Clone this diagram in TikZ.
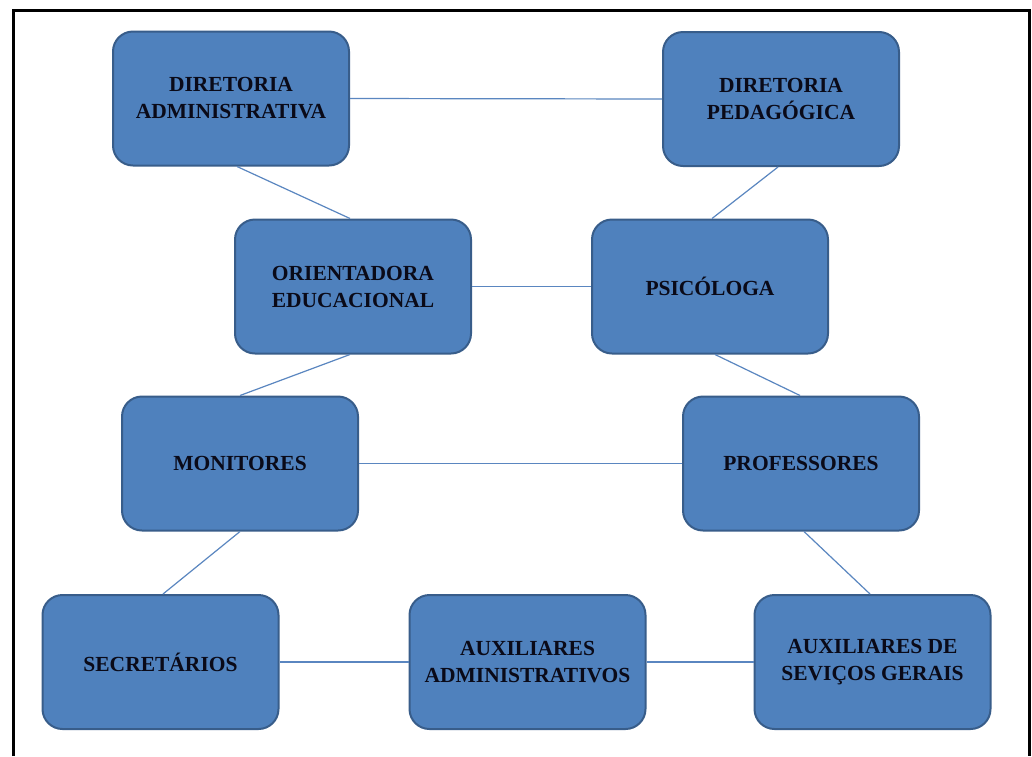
\documentclass[tikz,border=0pt]{standalone}
\usepackage{fontspec}
\setmainfont{Liberation Serif}
\definecolor{boxfill}{HTML}{4F81BD}
\definecolor{boxline}{HTML}{385D8A}
\definecolor{conn}{HTML}{5A86C0}
\definecolor{txt}{HTML}{0A0A18}
\begin{document}
\begin{tikzpicture}[x=1pt,y=-1pt,
  orgbox/.style={rectangle, rounded corners=20pt, fill=boxfill, draw=boxline, line width=2pt,
    minimum width=236pt, minimum height=134pt, inner sep=0pt, align=center,
    font=\fontsize{21.5}{27}\selectfont\bfseries, text=txt},
  link/.style={draw=conn, line width=1.2pt}]
\useasboundingbox (0,0) rectangle (1032,756);
\fill[white] (0,0) rectangle (1032,756);
\draw[line width=3pt] (13,756) -- (13,10) -- (1029,10) -- (1029,756);

\node[orgbox] (DA) at (231,98.5) {DIRETORIA\\ADMINISTRATIVA};
\node[orgbox] (DP) at (781,99) {DIRETORIA\\PEDAGÓGICA};
\node[orgbox] (OE) at (353,286.5) {ORIENTADORA\\EDUCACIONAL};
\node[orgbox] (PS) at (710,286.5) {PSICÓLOGA};
\node[orgbox] (MO) at (240,463.5) {MONITORES};
\node[orgbox] (PR) at (801,463.5) {PROFESSORES};
\node[orgbox] (SE) at (160.5,662) {SECRETÁRIOS};
\node[orgbox] (AA) at (527.5,662) {AUXILIARES\\ADMINISTRATIVOS};
\node[orgbox] (AS) at (872.5,662) {AUXILIARES DE\\SEVIÇOS GERAIS};

\path[link] (DA.east) -- (DP.west);
\path[link] ([xshift=6pt]DA.south) -- ([xshift=-3pt]OE.north);
\path[link] ([xshift=-3pt]DP.south) -- ([xshift=2pt]PS.north);
\path[link] (OE.east) -- (PS.west);
\path[link] ([xshift=-3pt]OE.south) -- (MO.north);
\path[link] ([xshift=5pt]PS.south) -- ([xshift=-1pt]PR.north);
\path[link] (MO.east) -- (PR.west);
\path[link] (MO.south) -- ([xshift=2.5pt]SE.north);
\path[link] ([xshift=3pt]PR.south) -- ([xshift=-2.5pt]AS.north);
\path[link] (SE.east) -- (AA.west);
\path[link] (AA.east) -- (AS.west);
\end{tikzpicture}
\end{document}
